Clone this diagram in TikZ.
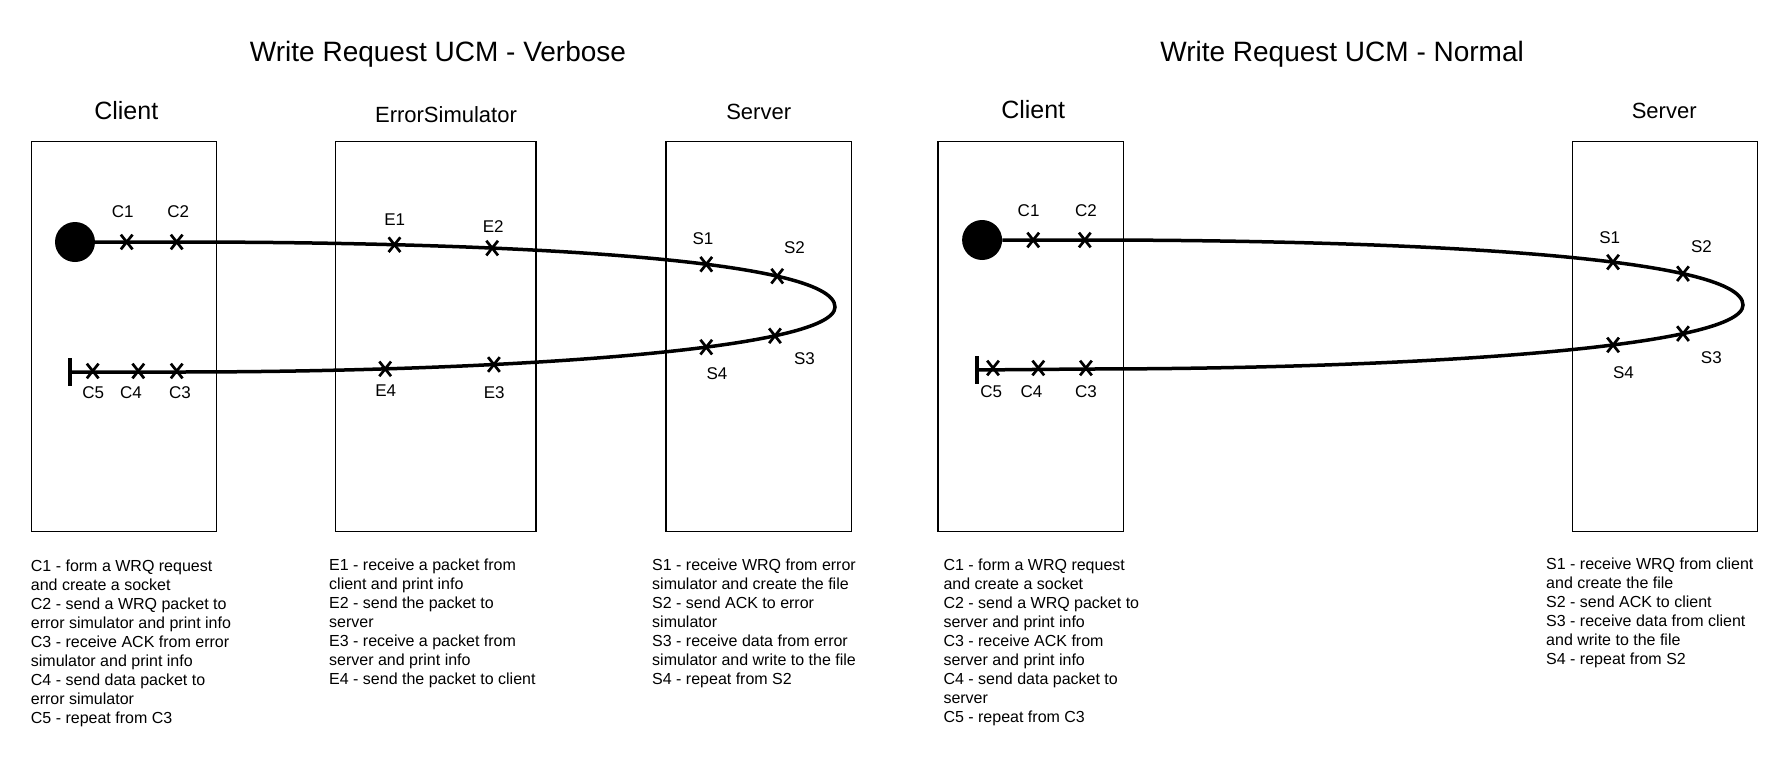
\documentclass[tikz,border=0pt]{standalone}
\usepackage{fontspec}
\setmainfont{Liberation Sans}
\usetikzlibrary{shapes.misc}
\begin{document}
\begin{tikzpicture}[x=1pt,y=-1pt,
  lane/.style={draw=black, line width=1.2pt, fill=white, inner sep=0pt, anchor=north west, minimum height=390pt},
  ucm/.style={line width=3.5pt},
  xmark/.style={cross out, draw=black, line width=2.7pt, minimum width=9pt, minimum height=12pt, inner sep=0pt},
  startpt/.style={circle, fill=black, minimum size=40pt, inner sep=0pt},
  endbar/.style={fill=black, minimum width=3.5pt, minimum height=28pt, inner sep=0pt},
  title/.style={font=\fontsize{28}{34}\selectfont, anchor=base, inner sep=0pt},
  head/.style={font=\fontsize{22}{26}\selectfont, anchor=base, inner sep=0pt},
  headc/.style={font=\fontsize{25}{30}\selectfont, anchor=base, inner sep=0pt},
  lbl/.style={font=\fontsize{17}{20}\selectfont, anchor=base, inner sep=0pt},
  desc/.style={font=\fontsize{16}{19}\selectfont, align=left, anchor=north west, inner sep=0pt},
]
\useasboundingbox[fill=white] (0,0) rectangle (1788,763);

% ---------------- Verbose ----------------
\node[title] (vtitle) at (438,61.7) {Write Request UCM - Verbose};
\node[headc] (vhclient) at (126.3,119.3) {Client};
\node[head] (vherr) at (446,122.5) {ErrorSimulator};
\node[head] (vhserver) at (758.7,119) {Server};

\node[lane, minimum width=185pt] (vclient) at (31,141) {};
\node[lane, minimum width=200.3pt] (verr) at (335,141) {};
\node[lane, minimum width=185.4pt] (vserver) at (665.3,141) {};

\node[startpt] (vstart) at (75,242) {};
\node[endbar] (vend) at (70,372) {};
\draw[ucm] (vstart) -- (177,242)
  .. controls (497,242) and (835,258) ..
  node[xmark,pos=.228] (ve1) {} node[xmark,pos=.336] (ve2) {}
  node[xmark,pos=.617] (vs1) {} node[xmark,pos=.75] (vs2) {}
  (835,307)
  .. controls (835,350) and (497,372) ..
  node[xmark,pos=.255] (vs3) {} node[xmark,pos=.383] (vs4) {}
  node[xmark,pos=.662] (ve3) {} node[xmark,pos=.782] (ve4) {}
  (177,372) -- (vend);
\node[xmark] (vc1) at (126.7,242) {};
\node[xmark] (vc2) at (176.7,242) {};
\node[xmark] (vc3) at (176.7,371) {};
\node[xmark] (vc4) at (138.3,371) {};
\node[xmark] (vc5) at (92.7,371) {};

\node[lbl] (vlc1) at (122.7,217.5) {C1};
\node[lbl] (vlc2) at (178.3,217.5) {C2};
\node[lbl] (vle1) at (394.7,225) {E1};
\node[lbl] (vle2) at (493.2,232) {E2};
\node[lbl] (vls1) at (703,244) {S1};
\node[lbl] (vls2) at (794.4,253) {S2};
\node[lbl] (vls3) at (804.4,364) {S3};
\node[lbl] (vls4) at (717,379) {S4};
\node[lbl] (vle4) at (385.8,396) {E4};
\node[lbl] (vle3) at (494.2,398) {E3};
\node[lbl] (vlc5) at (93.3,398.3) {C5};
\node[lbl] (vlc4) at (131,398.3) {C4};
\node[lbl] (vlc3) at (180,398.3) {C3};

\node[desc] (vdc) at (30.7,557.7) {\strut C1 - form a WRQ request\\
and create a socket\\
C2 - send a WRQ packet to\\
error simulator and print info\\
C3 - receive ACK from error\\
simulator and print info\\
C4 - send data packet to\\
error simulator\\
C5 - repeat from C3};
\node[desc] (vde) at (329,557.2) {\strut E1 - receive a packet from\\
client and print info\\
E2 - send the packet to\\
server\\
E3 - receive a packet from\\
server and print info\\
E4 - send the packet to client};
\node[desc] (vds) at (652,557.2) {\strut S1 - receive WRQ from error\\
simulator and create the file\\
S2 - send ACK to error\\
simulator\\
S3 - receive data from error\\
simulator and write to the file\\
S4 - repeat from S2};

% ---------------- Normal ----------------
\node[title] (ntitle) at (1342.1,61.7) {Write Request UCM - Normal};
\node[headc] (nhclient) at (1033.2,118.5) {Client};
\node[head] (nhserver) at (1664.2,118.5) {Server};

\node[lane, minimum width=185.4pt] (nclient) at (937.3,141) {};
\node[lane, minimum width=185pt] (nserver) at (1572,141) {};

\node[startpt] (nstart) at (982.1,240) {};
\node[endbar] (nend) at (976.9,370) {};
\draw[ucm] (nstart) -- (1085,240)
  .. controls (1405,240) and (1743,256) ..
  node[xmark,pos=.615] (ns1) {} node[xmark,pos=.745] (ns2) {}
  (1743,305)
  .. controls (1743,348) and (1405,369) ..
  node[xmark,pos=.255] (ns3) {} node[xmark,pos=.385] (ns4) {}
  (1086,369) -- (nend);
\node[xmark] (nc1) at (1033.2,240) {};
\node[xmark] (nc2) at (1084.8,240) {};
\node[xmark] (nc3) at (1085.9,368) {};
\node[xmark] (nc4) at (1038.3,368) {};
\node[xmark] (nc5) at (993,368) {};

\node[lbl] (nlc1) at (1028.6,216.5) {C1};
\node[lbl] (nlc2) at (1085.9,216.5) {C2};
\node[lbl] (nls1) at (1609.7,243) {S1};
\node[lbl] (nls2) at (1701.5,252) {S2};
\node[lbl] (nls3) at (1711.3,363) {S3};
\node[lbl] (nls4) at (1623.5,378) {S4};
\node[lbl] (nlc5) at (991.3,397.5) {C5};
\node[lbl] (nlc4) at (1031.4,397.5) {C4};
\node[lbl] (nlc3) at (1085.9,397.5) {C3};

\node[desc] (ndc) at (943.3,556.7) {\strut C1 - form a WRQ request\\
and create a socket\\
C2 - send a WRQ packet to\\
server and print info\\
C3 - receive ACK from\\
server and print info\\
C4 - send data packet to\\
server\\
C5 - repeat from C3};
\node[desc] (nds) at (1546,556.2) {\strut S1 - receive WRQ from client\\
and create the file\\
S2 - send ACK to client\\
S3 - receive data from client\\
and write to the file\\
S4 - repeat from S2};
\end{tikzpicture}
\end{document}
